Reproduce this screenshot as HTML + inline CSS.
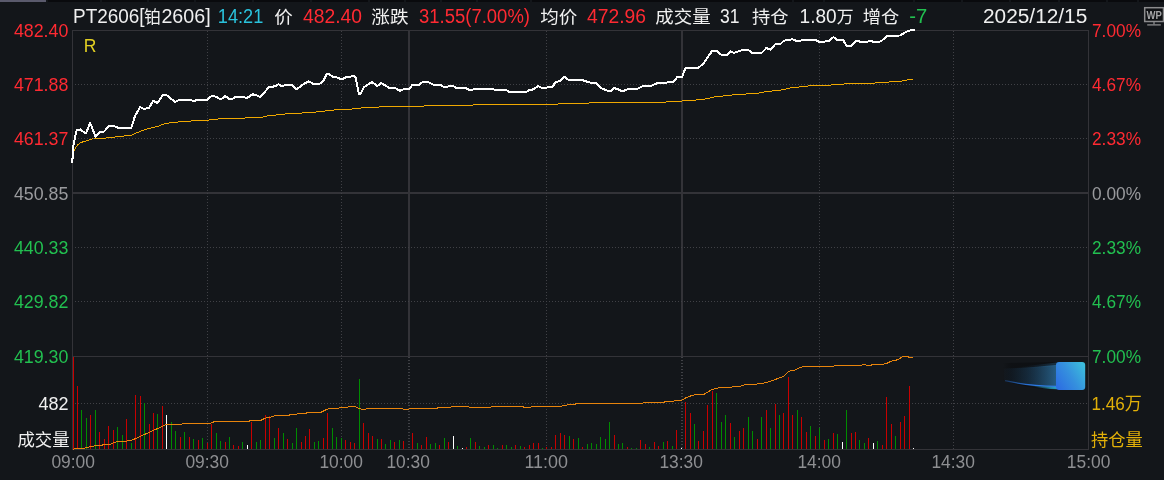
<!DOCTYPE html>
<html lang="zh-CN"><head><meta charset="utf-8"><title>PT2606</title>
<style>html,body{margin:0;padding:0;background:#13161a;overflow:hidden}svg{display:block}</style>
</head><body>
<svg width="1164" height="480" viewBox="0 0 1164 480">
<rect width="1164" height="480" fill="#13161a"/>
<g shape-rendering="crispEdges">
<rect x="0" y="0" width="1164" height="2" fill="#090a0d"/>
<rect x="0" y="0" width="46" height="2" fill="#5a5a6c"/>
<rect x="46" y="0" width="2" height="2" fill="#13161a"/>
<rect x="100" y="0" width="2" height="2" fill="#13161a"/>
<rect x="147" y="0" width="2" height="2" fill="#13161a"/>
<rect x="194" y="0" width="2" height="2" fill="#13161a"/>
<rect x="252" y="0" width="2" height="2" fill="#13161a"/>
<rect x="310" y="0" width="2" height="2" fill="#13161a"/>
<rect x="368" y="0" width="2" height="2" fill="#13161a"/>
<rect x="404" y="0" width="2" height="2" fill="#13161a"/>
<rect x="440" y="0" width="2" height="2" fill="#13161a"/>
<rect x="476" y="0" width="2" height="2" fill="#13161a"/>
<rect x="530" y="0" width="2" height="2" fill="#13161a"/>
<rect x="792" y="0" width="2" height="2" fill="#13161a"/>
<rect x="823" y="0" width="2" height="2" fill="#13161a"/>
<rect x="913" y="0" width="2" height="2" fill="#13161a"/>
<rect x="961" y="0" width="2" height="2" fill="#13161a"/>
<rect x="1009" y="0" width="2" height="2" fill="#13161a"/>
<rect x="1058" y="0" width="2" height="2" fill="#13161a"/>
<rect x="1106" y="0" width="2" height="2" fill="#13161a"/>
<rect x="1137" y="0" width="2" height="2" fill="#13161a"/>
<rect x="72" y="30" width="1017" height="1" fill="#333338"/>
<rect x="72" y="356" width="1017" height="1" fill="#333338"/>
<rect x="72" y="449" width="1017" height="1" fill="#333338"/>
<rect x="72" y="30" width="1" height="420" fill="#333338"/>
<rect x="1088" y="30" width="1" height="420" fill="#333338"/>
<rect x="72" y="192" width="1017" height="2" fill="#333338"/>
<rect x="408" y="30" width="2" height="326" fill="#333338"/>
<rect x="681" y="30" width="2" height="326" fill="#333338"/>
<line x1="75" y1="84.5" x2="1088" y2="84.5" stroke="#404146" stroke-width="1" stroke-dasharray="1 2"/>
<line x1="75" y1="138.5" x2="1088" y2="138.5" stroke="#404146" stroke-width="1" stroke-dasharray="1 2"/>
<line x1="75" y1="247.5" x2="1088" y2="247.5" stroke="#404146" stroke-width="1" stroke-dasharray="1 2"/>
<line x1="75" y1="301.5" x2="1088" y2="301.5" stroke="#404146" stroke-width="1" stroke-dasharray="1 2"/>
<line x1="75" y1="403.5" x2="1088" y2="403.5" stroke="#404146" stroke-width="1" stroke-dasharray="1 2"/>
<line x1="207.5" y1="31" x2="207.5" y2="449" stroke="#404146" stroke-width="1" stroke-dasharray="1 2"/>
<line x1="341.5" y1="31" x2="341.5" y2="449" stroke="#404146" stroke-width="1" stroke-dasharray="1 2"/>
<line x1="546.5" y1="31" x2="546.5" y2="449" stroke="#404146" stroke-width="1" stroke-dasharray="1 2"/>
<line x1="819.5" y1="31" x2="819.5" y2="449" stroke="#404146" stroke-width="1" stroke-dasharray="1 2"/>
<line x1="953.5" y1="31" x2="953.5" y2="449" stroke="#404146" stroke-width="1" stroke-dasharray="1 2"/>
<line x1="409" y1="357" x2="409" y2="449" stroke="#404146" stroke-width="2" stroke-dasharray="1 2"/>
<line x1="682" y1="357" x2="682" y2="449" stroke="#404146" stroke-width="2" stroke-dasharray="1 2"/>
<rect x="73" y="357" width="1" height="92" fill="#c80000"/>
<rect x="77" y="386" width="1" height="63" fill="#c80000"/>
<rect x="81" y="410" width="1" height="39" fill="#008c00"/>
<rect x="86" y="418" width="1" height="31" fill="#008c00"/>
<rect x="90" y="415" width="1" height="34" fill="#c80000"/>
<rect x="95" y="410" width="1" height="39" fill="#008c00"/>
<rect x="99" y="432" width="1" height="17" fill="#c80000"/>
<rect x="104" y="439" width="1" height="10" fill="#c80000"/>
<rect x="108" y="426" width="1" height="23" fill="#c80000"/>
<rect x="113" y="430" width="1" height="19" fill="#c80000"/>
<rect x="117" y="427" width="1" height="22" fill="#008c00"/>
<rect x="122" y="435" width="1" height="14" fill="#008c00"/>
<rect x="126" y="419" width="1" height="30" fill="#c80000"/>
<rect x="131" y="443" width="1" height="6" fill="#008c00"/>
<rect x="135" y="395" width="1" height="54" fill="#c80000"/>
<rect x="140" y="396" width="1" height="53" fill="#c80000"/>
<rect x="144" y="403" width="1" height="46" fill="#008c00"/>
<rect x="149" y="424" width="1" height="25" fill="#c80000"/>
<rect x="153" y="413" width="1" height="36" fill="#c80000"/>
<rect x="157" y="414" width="1" height="35" fill="#008c00"/>
<rect x="162" y="406" width="1" height="43" fill="#c80000"/>
<rect x="166" y="415" width="1" height="34" fill="#ffffff"/>
<rect x="171" y="422" width="1" height="27" fill="#008c00"/>
<rect x="175" y="431" width="1" height="18" fill="#008c00"/>
<rect x="180" y="437" width="1" height="12" fill="#c80000"/>
<rect x="184" y="432" width="1" height="17" fill="#008c00"/>
<rect x="189" y="437" width="1" height="12" fill="#c80000"/>
<rect x="193" y="439" width="1" height="10" fill="#008c00"/>
<rect x="198" y="440" width="1" height="9" fill="#c80000"/>
<rect x="202" y="438" width="1" height="11" fill="#008c00"/>
<rect x="207" y="443" width="1" height="6" fill="#c80000"/>
<rect x="211" y="424" width="1" height="25" fill="#c80000"/>
<rect x="216" y="433" width="1" height="16" fill="#008c00"/>
<rect x="220" y="441" width="1" height="8" fill="#008c00"/>
<rect x="225" y="442" width="1" height="7" fill="#c80000"/>
<rect x="229" y="437" width="1" height="12" fill="#008c00"/>
<rect x="233" y="445" width="1" height="4" fill="#c80000"/>
<rect x="238" y="446" width="1" height="3" fill="#c80000"/>
<rect x="242" y="442" width="1" height="7" fill="#008c00"/>
<rect x="247" y="445" width="1" height="4" fill="#ffffff"/>
<rect x="251" y="422" width="1" height="27" fill="#c80000"/>
<rect x="256" y="442" width="1" height="7" fill="#008c00"/>
<rect x="260" y="440" width="1" height="9" fill="#008c00"/>
<rect x="265" y="415" width="1" height="34" fill="#c80000"/>
<rect x="269" y="416" width="1" height="33" fill="#c80000"/>
<rect x="274" y="438" width="1" height="11" fill="#008c00"/>
<rect x="278" y="428" width="1" height="21" fill="#c80000"/>
<rect x="283" y="433" width="1" height="16" fill="#008c00"/>
<rect x="287" y="439" width="1" height="10" fill="#c80000"/>
<rect x="292" y="443" width="1" height="6" fill="#008c00"/>
<rect x="296" y="428" width="1" height="21" fill="#008c00"/>
<rect x="301" y="442" width="1" height="7" fill="#c80000"/>
<rect x="305" y="436" width="1" height="13" fill="#c80000"/>
<rect x="309" y="429" width="1" height="20" fill="#c80000"/>
<rect x="314" y="442" width="1" height="7" fill="#008c00"/>
<rect x="318" y="441" width="1" height="8" fill="#008c00"/>
<rect x="323" y="438" width="1" height="11" fill="#c80000"/>
<rect x="327" y="413" width="1" height="36" fill="#c80000"/>
<rect x="332" y="428" width="1" height="21" fill="#008c00"/>
<rect x="336" y="437" width="1" height="12" fill="#008c00"/>
<rect x="341" y="438" width="1" height="11" fill="#008c00"/>
<rect x="345" y="440" width="1" height="9" fill="#c80000"/>
<rect x="350" y="442" width="1" height="7" fill="#c80000"/>
<rect x="354" y="443" width="1" height="6" fill="#c80000"/>
<rect x="359" y="379" width="1" height="70" fill="#008c00"/>
<rect x="363" y="423" width="1" height="26" fill="#c80000"/>
<rect x="368" y="433" width="1" height="16" fill="#c80000"/>
<rect x="372" y="436" width="1" height="13" fill="#c80000"/>
<rect x="377" y="439" width="1" height="10" fill="#008c00"/>
<rect x="381" y="439" width="1" height="10" fill="#c80000"/>
<rect x="385" y="444" width="1" height="5" fill="#008c00"/>
<rect x="390" y="440" width="1" height="9" fill="#008c00"/>
<rect x="394" y="442" width="1" height="7" fill="#c80000"/>
<rect x="399" y="440" width="1" height="9" fill="#008c00"/>
<rect x="403" y="441" width="1" height="8" fill="#c80000"/>
<rect x="412" y="433" width="1" height="16" fill="#c80000"/>
<rect x="417" y="443" width="1" height="6" fill="#008c00"/>
<rect x="421" y="445" width="1" height="4" fill="#c80000"/>
<rect x="426" y="437" width="1" height="12" fill="#c80000"/>
<rect x="430" y="444" width="1" height="5" fill="#008c00"/>
<rect x="435" y="443" width="1" height="6" fill="#008c00"/>
<rect x="439" y="445" width="1" height="4" fill="#c80000"/>
<rect x="444" y="438" width="1" height="11" fill="#008c00"/>
<rect x="448" y="442" width="1" height="7" fill="#c80000"/>
<rect x="453" y="436" width="1" height="13" fill="#ffffff"/>
<rect x="457" y="446" width="1" height="3" fill="#008c00"/>
<rect x="462" y="448" width="1" height="1" fill="#ffffff"/>
<rect x="466" y="447" width="1" height="2" fill="#c80000"/>
<rect x="470" y="438" width="1" height="11" fill="#008c00"/>
<rect x="475" y="442" width="1" height="7" fill="#c80000"/>
<rect x="479" y="446" width="1" height="3" fill="#008c00"/>
<rect x="484" y="447" width="1" height="2" fill="#008c00"/>
<rect x="488" y="445" width="1" height="4" fill="#c80000"/>
<rect x="493" y="445" width="1" height="4" fill="#008c00"/>
<rect x="497" y="448" width="1" height="1" fill="#008c00"/>
<rect x="502" y="445" width="1" height="4" fill="#c80000"/>
<rect x="506" y="445" width="1" height="4" fill="#008c00"/>
<rect x="511" y="447" width="1" height="2" fill="#008c00"/>
<rect x="515" y="445" width="1" height="4" fill="#c80000"/>
<rect x="520" y="446" width="1" height="3" fill="#008c00"/>
<rect x="524" y="447" width="1" height="2" fill="#c80000"/>
<rect x="529" y="445" width="1" height="4" fill="#c80000"/>
<rect x="533" y="443" width="1" height="6" fill="#c80000"/>
<rect x="538" y="443" width="1" height="6" fill="#c80000"/>
<rect x="542" y="448" width="1" height="1" fill="#008c00"/>
<rect x="546" y="447" width="1" height="2" fill="#c80000"/>
<rect x="551" y="447" width="1" height="2" fill="#c80000"/>
<rect x="555" y="435" width="1" height="14" fill="#c80000"/>
<rect x="560" y="433" width="1" height="16" fill="#c80000"/>
<rect x="564" y="435" width="1" height="14" fill="#c80000"/>
<rect x="569" y="436" width="1" height="13" fill="#008c00"/>
<rect x="573" y="439" width="1" height="10" fill="#c80000"/>
<rect x="578" y="438" width="1" height="11" fill="#008c00"/>
<rect x="582" y="447" width="1" height="2" fill="#c80000"/>
<rect x="587" y="444" width="1" height="5" fill="#008c00"/>
<rect x="591" y="443" width="1" height="6" fill="#008c00"/>
<rect x="596" y="444" width="1" height="5" fill="#008c00"/>
<rect x="600" y="437" width="1" height="12" fill="#008c00"/>
<rect x="605" y="439" width="1" height="10" fill="#008c00"/>
<rect x="609" y="422" width="1" height="27" fill="#008c00"/>
<rect x="614" y="435" width="1" height="14" fill="#c80000"/>
<rect x="618" y="444" width="1" height="5" fill="#008c00"/>
<rect x="622" y="443" width="1" height="6" fill="#008c00"/>
<rect x="627" y="447" width="1" height="2" fill="#c80000"/>
<rect x="631" y="448" width="1" height="1" fill="#008c00"/>
<rect x="636" y="448" width="1" height="1" fill="#008c00"/>
<rect x="640" y="440" width="1" height="9" fill="#c80000"/>
<rect x="645" y="444" width="1" height="5" fill="#c80000"/>
<rect x="649" y="447" width="1" height="2" fill="#008c00"/>
<rect x="654" y="442" width="1" height="7" fill="#c80000"/>
<rect x="658" y="446" width="1" height="3" fill="#c80000"/>
<rect x="663" y="442" width="1" height="7" fill="#008c00"/>
<rect x="667" y="441" width="1" height="8" fill="#c80000"/>
<rect x="672" y="446" width="1" height="3" fill="#008c00"/>
<rect x="676" y="430" width="1" height="19" fill="#c80000"/>
<rect x="681" y="448" width="1" height="1" fill="#ffffff"/>
<rect x="685" y="402" width="1" height="47" fill="#c80000"/>
<rect x="690" y="413" width="1" height="36" fill="#c80000"/>
<rect x="694" y="424" width="1" height="25" fill="#008c00"/>
<rect x="698" y="441" width="1" height="8" fill="#c80000"/>
<rect x="703" y="431" width="1" height="18" fill="#c80000"/>
<rect x="707" y="405" width="1" height="44" fill="#c80000"/>
<rect x="712" y="391" width="1" height="58" fill="#c80000"/>
<rect x="716" y="393" width="1" height="56" fill="#008c00"/>
<rect x="721" y="422" width="1" height="27" fill="#008c00"/>
<rect x="725" y="415" width="1" height="34" fill="#008c00"/>
<rect x="730" y="423" width="1" height="26" fill="#c80000"/>
<rect x="734" y="437" width="1" height="12" fill="#008c00"/>
<rect x="739" y="431" width="1" height="18" fill="#c80000"/>
<rect x="743" y="428" width="1" height="21" fill="#c80000"/>
<rect x="748" y="417" width="1" height="32" fill="#008c00"/>
<rect x="752" y="431" width="1" height="18" fill="#008c00"/>
<rect x="757" y="439" width="1" height="10" fill="#c80000"/>
<rect x="761" y="417" width="1" height="32" fill="#008c00"/>
<rect x="766" y="410" width="1" height="39" fill="#c80000"/>
<rect x="770" y="428" width="1" height="21" fill="#008c00"/>
<rect x="775" y="404" width="1" height="45" fill="#c80000"/>
<rect x="779" y="415" width="1" height="34" fill="#008c00"/>
<rect x="783" y="413" width="1" height="36" fill="#c80000"/>
<rect x="788" y="377" width="1" height="72" fill="#c80000"/>
<rect x="792" y="415" width="1" height="34" fill="#c80000"/>
<rect x="797" y="410" width="1" height="39" fill="#008c00"/>
<rect x="801" y="417" width="1" height="32" fill="#c80000"/>
<rect x="806" y="432" width="1" height="17" fill="#c80000"/>
<rect x="810" y="426" width="1" height="23" fill="#008c00"/>
<rect x="815" y="436" width="1" height="13" fill="#c80000"/>
<rect x="819" y="428" width="1" height="21" fill="#008c00"/>
<rect x="824" y="440" width="1" height="9" fill="#c80000"/>
<rect x="828" y="439" width="1" height="10" fill="#008c00"/>
<rect x="833" y="433" width="1" height="16" fill="#c80000"/>
<rect x="837" y="434" width="1" height="15" fill="#008c00"/>
<rect x="842" y="442" width="1" height="7" fill="#ffffff"/>
<rect x="846" y="410" width="1" height="39" fill="#008c00"/>
<rect x="851" y="433" width="1" height="16" fill="#c80000"/>
<rect x="855" y="432" width="1" height="17" fill="#c80000"/>
<rect x="859" y="440" width="1" height="9" fill="#008c00"/>
<rect x="864" y="443" width="1" height="6" fill="#008c00"/>
<rect x="868" y="438" width="1" height="11" fill="#c80000"/>
<rect x="873" y="443" width="1" height="6" fill="#ffffff"/>
<rect x="877" y="441" width="1" height="8" fill="#008c00"/>
<rect x="882" y="445" width="1" height="4" fill="#c80000"/>
<rect x="886" y="397" width="1" height="52" fill="#c80000"/>
<rect x="891" y="424" width="1" height="25" fill="#c80000"/>
<rect x="895" y="436" width="1" height="13" fill="#008c00"/>
<rect x="900" y="422" width="1" height="27" fill="#c80000"/>
<rect x="904" y="416" width="1" height="33" fill="#c80000"/>
<rect x="909" y="386" width="1" height="63" fill="#c80000"/>
<rect x="913" y="448" width="1" height="1" fill="#ffffff"/>
</g>
<polyline points="73.0,449.5 75.0,448.5 84.0,448.4 88.0,447.2 93.0,446.2 97.0,445.4 102.0,445.2 104.0,444.4 110.0,444.3 117.0,441.6 125.0,441.4 131.9,440.2 164.8,425.2 166.5,424.5 181.5,424.3 182.6,423.5 208.0,423.5 212.3,422.8 214.4,421.4 248.8,421.4 250.9,420.1 261.3,420.1 266.5,417.6 270.7,417.2 276.9,415.1 289.4,415.1 291.5,414.1 304.0,413.9 308.2,412.4 320.7,412.4 326.9,409.3 331.1,408.3 338.4,408.3 340.5,407.2 347.3,407.2 349.4,406.2 354.6,406.2 359.8,408.9 365.0,409.3 367.1,408.3 401.5,408.3 403.5,409.3 408.8,409.3 410.8,408.3 436.9,408.3 439.0,407.2 450.4,407.2 452.5,406.4 468.1,406.4 470.2,407.4 490.6,407.4 492.3,406.4 522.9,406.4 523.9,407.4 530.2,407.4 531.8,406.4 561.4,406.4 563.5,405.5 566.6,405.3 567.7,404.5 575.0,404.3 577.0,403.2 642.8,403.2 644.3,402.2 664.0,402.2 666.2,401.4 673.5,401.4 675.5,400.3 681.8,400.3 686.0,397.8 692.2,395.3 697.4,394.5 703.7,394.5 712.0,389.5 719.3,387.6 731.8,387.2 732.8,386.4 740.0,386.4 746.4,384.3 754.2,384.3 763.6,383.2 770.9,381.2 777.2,378.7 783.4,376.4 788.6,371.2 794.9,370.1 801.1,367.2 805.3,366.4 833.4,366.4 835.5,365.5 861.5,365.3 863.6,364.5 866.8,365.3 871.0,365.3 872.0,364.5 882.9,364.4 887.0,363.3 891.2,361.2 897.5,359.8 903.8,356.0 906.9,356.0 909.0,357.3 913.0,357.3" fill="none" stroke="#e8840c" stroke-width="1" stroke-linejoin="round" shape-rendering="crispEdges"/>
<polyline points="74.2,151.4 75.2,148.2 77.5,145.0 80.9,142.5 86.6,140.8 90.5,139.6 93.5,138.6" fill="none" stroke="#f0a800" stroke-width="1" stroke-linejoin="round" shape-rendering="crispEdges"/>
<path d="M94,138.5H106 M106,137.5H115 M115,136.5H124 M124,135.5H132 M132,134.5H134 M134,133.5H136 M136,132.5H139 M139,131.5H141 M141,130.5H144 M144,129.5H147 M147,128.5H151 M151,127.5H155 M155,126.5H159 M159,125.5H161 M161,124.5H164 M164,123.5H169 M169,122.5H178 M178,121.5H191 M191,120.5H209 M209,119.5H218 M218,118.5H245 M245,117.5H263 M263,116.5H267 M267,115.5H276 M276,114.5H285 M285,113.5H302 M302,112.5H316 M316,111.5H325 M325,110.5H334 M334,109.5H352 M352,108.5H361 M361,107.5H379 M379,106.5H424 M424,105.5H473 M473,104.5H558 M558,103.5H589 M589,102.5H666 M666,101.5H682 M682,100.5H696 M696,99.5H705 M705,98.5H710 M710,97.5H714 M714,96.5H723 M723,95.5H732 M732,94.5H746 M746,93.5H759 M759,92.5H764 M764,91.5H772 M772,90.5H781 M781,89.5H786 M786,88.5H790 M790,87.5H799 M799,86.5H808 M808,85.5H831 M831,84.5H844 M844,83.5H875 M875,82.5H889 M889,81.5H902 M902,80.5H907 M907,79.5H913" fill="none" stroke="#f0a800" stroke-width="1" shape-rendering="crispEdges"/>
<polyline points="71.8,162.2 72.6,158.0 73.3,146.0 76.6,130.2 80.2,129.4 85.8,133.5 90.2,122.9 95.6,137.0 99.2,132.4 103.9,131.6 109.1,126.2 113.8,126.1 118.2,127.7 131.3,127.7 135.0,116.0 140.1,107.2 144.5,109.0 148.9,107.8 153.2,101.0 157.6,102.9 162.7,95.1 166.4,95.1 175.2,102.0 179.5,99.8 189.8,99.8 193.4,101.0 198.5,99.8 207.3,99.8 211.4,96.1 216.0,96.6 219.7,98.8 221.9,98.5 225.1,96.1 229.2,98.8 232.8,98.5 236.5,96.6 240.0,97.0 247.3,97.8 252.4,94.4 255.3,94.7 260.4,97.1 269.2,86.8 275.1,86.4 278.4,84.2 281.6,86.0 287.5,84.9 291.8,84.9 296.7,89.3 304.3,83.5 308.9,81.3 313.0,83.9 319.6,83.9 323.2,81.3 326.9,73.7 329.1,74.0 332.7,76.9 336.4,77.2 340.0,78.8 343.0,78.7 346.6,76.9 353.9,76.2 355.4,76.9 359.0,94.1 360.5,93.7 364.1,87.1 372.2,82.0 377.3,86.0 381.4,83.0 389.0,87.9 394.8,87.9 399.9,90.8 404.3,88.9 409.4,88.9 412.3,84.9 418.9,84.9 422.5,82.0 426.2,82.0 429.8,82.7 433.5,84.9 440.0,84.6 443.7,86.8 447.4,86.8 450.3,85.7 453.2,86.0 456.1,87.9 465.6,87.9 469.3,90.0 472.2,90.0 475.1,88.6 492.6,88.9 494.8,90.0 505.8,90.0 509.4,91.9 526.2,91.8 529.1,90.3 533.5,89.3 538.2,86.0 541.6,87.9 545.9,87.9 548.9,86.8 552.5,86.8 555.4,82.5 560.5,80.6 564.2,76.6 567.8,79.5 575.0,79.8 581.0,79.7 584.6,80.9 589.0,82.4 596.3,83.1 601.4,88.2 608.7,91.1 610.9,90.8 613.8,88.2 617.5,88.9 621.8,91.1 624.0,90.8 628.4,88.9 637.9,88.5 643.0,86.0 651.8,85.6 658.4,82.6 666.4,82.8 669.3,81.9 673.7,81.6 677.3,77.0 682.2,76.8 685.4,68.0 689.8,67.5 698.5,67.7 703.6,63.4 712.4,50.5 716.0,50.5 721.9,55.3 726.3,55.3 730.7,51.4 733.6,52.9 740.0,51.0 742.9,49.8 748.0,49.8 751.7,52.7 761.9,52.7 766.3,48.1 770.7,49.8 775.1,44.4 780.2,44.4 783.8,40.6 788.2,40.3 792.6,39.2 795.5,40.6 800.6,40.6 802.8,39.6 815.2,39.6 819.6,42.2 824.0,42.2 826.2,40.8 829.1,40.8 833.5,37.0 836.4,39.6 843.0,39.9 846.6,45.9 851.0,45.9 856.1,40.6 860.5,41.8 867.1,41.8 870.0,40.8 874.4,42.1 880.9,41.4 887.5,35.7 899.9,35.5 906.0,32.0 910.0,30.5 914.0,30.0" fill="none" stroke="#ffffff" stroke-width="2" stroke-linejoin="round" stroke-linecap="round" shape-rendering="crispEdges"/>
<defs>
<linearGradient id="bq" x1="0" y1="0.8" x2="1" y2="0.2"><stop offset="0" stop-color="#2d6fe2"/><stop offset="0.5" stop-color="#3590de"/><stop offset="1" stop-color="#3cbcdc"/></linearGradient>
<linearGradient id="dk" x1="0" y1="0" x2="1" y2="0"><stop offset="0" stop-color="#0b0d10" stop-opacity="0"/><stop offset="0.15" stop-color="#0b0d10" stop-opacity="0.6"/><stop offset="1" stop-color="#0b0d10" stop-opacity="0.7"/></linearGradient>
<linearGradient id="tail" x1="0" y1="0" x2="1" y2="0"><stop offset="0" stop-color="#1c4468" stop-opacity="0.05"/><stop offset="0.5" stop-color="#235a86" stop-opacity="0.38"/><stop offset="1" stop-color="#2f78aa" stop-opacity="0.75"/></linearGradient>
<linearGradient id="tail2" x1="0" y1="0" x2="1" y2="0"><stop offset="0" stop-color="#2a78e6" stop-opacity="0.3"/><stop offset="0.5" stop-color="#2a78e6" stop-opacity="1"/><stop offset="1" stop-color="#2f7fe8" stop-opacity="1"/></linearGradient>
<linearGradient id="tail3" x1="0" y1="0" x2="1" y2="0"><stop offset="0" stop-color="#2aa6c8" stop-opacity="0"/><stop offset="1" stop-color="#2aa6c8" stop-opacity="0.95"/></linearGradient>
</defs>
<path d="M1003,363 L1057,362 L1057,389.5 C1040,389.5 1020,386 1003,380.5 Z" fill="url(#dk)"/>
<path d="M1004,368.5 C1022,368 1040,366.5 1057,365 L1057,388 C1038,387 1020,384 1004,380.5 Z" fill="url(#tail)"/>
<path d="M1022,366.5 L1057,362.5 L1057,366 L1022,368.3 Z" fill="url(#tail)" opacity="0.45"/>
<path d="M1030,386 C1040,388 1048,389 1057,389.2 L1057,386.5 Z" fill="url(#tail3)"/>
<path d="M1005,380.7 C1022,384.5 1038,386 1057,386.3" fill="none" stroke="url(#tail2)" stroke-width="1.3"/>
<rect x="1056" y="362" width="29.2" height="28" rx="3" fill="url(#bq)"/>
<g fill="none" stroke="#8c8c8e" stroke-width="1.5"><rect x="1144.7" y="7.7" width="18.8" height="13.8" fill="#101215"/><path d="M1154,22 V24.6" stroke-width="1.3"/><path d="M1147.2,24.9 H1160.8" stroke-width="1.3"/></g>
<text x="1154.1" y="18.8" font-family="'Liberation Sans',sans-serif" font-weight="bold" font-size="10.2" fill="#a6a6a8" text-anchor="middle" textLength="15.3" lengthAdjust="spacingAndGlyphs">WP</text>
<text x="68.4" y="37.2" font-family="'Liberation Sans','Noto Sans CJK SC',sans-serif" font-size="18.5" fill="#ff2a32" text-anchor="end" textLength="54.5" lengthAdjust="spacingAndGlyphs">482.40</text>
<text x="68.4" y="91.2" font-family="'Liberation Sans','Noto Sans CJK SC',sans-serif" font-size="18.5" fill="#ff2a32" text-anchor="end" textLength="54.5" lengthAdjust="spacingAndGlyphs">471.88</text>
<text x="68.4" y="145.2" font-family="'Liberation Sans','Noto Sans CJK SC',sans-serif" font-size="18.5" fill="#ff2a32" text-anchor="end" textLength="54.5" lengthAdjust="spacingAndGlyphs">461.37</text>
<text x="68.4" y="200.2" font-family="'Liberation Sans','Noto Sans CJK SC',sans-serif" font-size="18.5" fill="#9a9b9e" text-anchor="end" textLength="54.5" lengthAdjust="spacingAndGlyphs">450.85</text>
<text x="68.4" y="254.2" font-family="'Liberation Sans','Noto Sans CJK SC',sans-serif" font-size="18.5" fill="#22c050" text-anchor="end" textLength="54.5" lengthAdjust="spacingAndGlyphs">440.33</text>
<text x="68.4" y="308.2" font-family="'Liberation Sans','Noto Sans CJK SC',sans-serif" font-size="18.5" fill="#22c050" text-anchor="end" textLength="54.5" lengthAdjust="spacingAndGlyphs">429.82</text>
<text x="68.4" y="363.2" font-family="'Liberation Sans','Noto Sans CJK SC',sans-serif" font-size="18.5" fill="#22c050" text-anchor="end" textLength="54.5" lengthAdjust="spacingAndGlyphs">419.30</text>
<text x="68.5" y="409.6" font-family="'Liberation Sans','Noto Sans CJK SC',sans-serif" font-size="18" fill="#f0f0f0" text-anchor="end" >482</text>
<text x="69.6" y="445.8" font-family="'Liberation Sans','Noto Sans CJK SC',sans-serif" font-size="17.4" fill="#f0f0f0" text-anchor="end" >成交量</text>
<text x="1092" y="37.2" font-family="'Liberation Sans','Noto Sans CJK SC',sans-serif" font-size="18.5" fill="#ff2a32" text-anchor="start" textLength="49" lengthAdjust="spacingAndGlyphs">7.00%</text>
<text x="1092" y="91.2" font-family="'Liberation Sans','Noto Sans CJK SC',sans-serif" font-size="18.5" fill="#ff2a32" text-anchor="start" textLength="49" lengthAdjust="spacingAndGlyphs">4.67%</text>
<text x="1092" y="145.2" font-family="'Liberation Sans','Noto Sans CJK SC',sans-serif" font-size="18.5" fill="#ff2a32" text-anchor="start" textLength="49" lengthAdjust="spacingAndGlyphs">2.33%</text>
<text x="1092" y="200.2" font-family="'Liberation Sans','Noto Sans CJK SC',sans-serif" font-size="18.5" fill="#9a9b9e" text-anchor="start" textLength="49" lengthAdjust="spacingAndGlyphs">0.00%</text>
<text x="1092" y="254.2" font-family="'Liberation Sans','Noto Sans CJK SC',sans-serif" font-size="18.5" fill="#22c050" text-anchor="start" textLength="49" lengthAdjust="spacingAndGlyphs">2.33%</text>
<text x="1092" y="308.2" font-family="'Liberation Sans','Noto Sans CJK SC',sans-serif" font-size="18.5" fill="#22c050" text-anchor="start" textLength="49" lengthAdjust="spacingAndGlyphs">4.67%</text>
<text x="1092" y="363.2" font-family="'Liberation Sans','Noto Sans CJK SC',sans-serif" font-size="18.5" fill="#22c050" text-anchor="start" textLength="49" lengthAdjust="spacingAndGlyphs">7.00%</text>
<text x="1091.5" y="409.6" font-family="'Liberation Sans','Noto Sans CJK SC',sans-serif" font-size="17.8" fill="#e2b008" text-anchor="start" textLength="50.4" lengthAdjust="spacingAndGlyphs">1.46万</text>
<text x="1091.0" y="445.9" font-family="'Liberation Sans','Noto Sans CJK SC',sans-serif" font-size="17.3" fill="#e2b008" text-anchor="start" >持仓量</text>
<text x="73.2" y="467.9" font-family="'Liberation Sans','Noto Sans CJK SC',sans-serif" font-size="18" fill="#8e8f92" text-anchor="middle" textLength="43.5" lengthAdjust="spacingAndGlyphs">09:00</text>
<text x="207.2" y="467.9" font-family="'Liberation Sans','Noto Sans CJK SC',sans-serif" font-size="18" fill="#8e8f92" text-anchor="middle" textLength="43.5" lengthAdjust="spacingAndGlyphs">09:30</text>
<text x="341.2" y="467.9" font-family="'Liberation Sans','Noto Sans CJK SC',sans-serif" font-size="18" fill="#8e8f92" text-anchor="middle" textLength="43.5" lengthAdjust="spacingAndGlyphs">10:00</text>
<text x="408.2" y="467.9" font-family="'Liberation Sans','Noto Sans CJK SC',sans-serif" font-size="18" fill="#8e8f92" text-anchor="middle" textLength="43.5" lengthAdjust="spacingAndGlyphs">10:30</text>
<text x="546.2" y="467.9" font-family="'Liberation Sans','Noto Sans CJK SC',sans-serif" font-size="18" fill="#8e8f92" text-anchor="middle" textLength="43.5" lengthAdjust="spacingAndGlyphs">11:00</text>
<text x="681.2" y="467.9" font-family="'Liberation Sans','Noto Sans CJK SC',sans-serif" font-size="18" fill="#8e8f92" text-anchor="middle" textLength="43.5" lengthAdjust="spacingAndGlyphs">13:30</text>
<text x="819.2" y="467.9" font-family="'Liberation Sans','Noto Sans CJK SC',sans-serif" font-size="18" fill="#8e8f92" text-anchor="middle" textLength="43.5" lengthAdjust="spacingAndGlyphs">14:00</text>
<text x="953.2" y="467.9" font-family="'Liberation Sans','Noto Sans CJK SC',sans-serif" font-size="18" fill="#8e8f92" text-anchor="middle" textLength="43.5" lengthAdjust="spacingAndGlyphs">14:30</text>
<text x="1088.6000000000001" y="467.9" font-family="'Liberation Sans','Noto Sans CJK SC',sans-serif" font-size="18" fill="#8e8f92" text-anchor="middle" textLength="43.5" lengthAdjust="spacingAndGlyphs">15:00</text>
<text x="83.8" y="52" font-family="'Liberation Sans','Noto Sans CJK SC',sans-serif" font-size="17.5" fill="#e2cf22" text-anchor="start" >R</text>
<text x="73.0" y="22.7" font-family="'Liberation Sans','Noto Sans CJK SC',sans-serif" font-size="19.6" fill="#f0f0f0" textLength="71.6" lengthAdjust="spacingAndGlyphs">PT2606[</text>
<text x="144.1" y="22.8" font-family="'Liberation Sans','Noto Sans CJK SC',sans-serif" font-size="17.4" fill="#f0f0f0" textLength="16.8" lengthAdjust="spacingAndGlyphs">铂</text>
<text x="161.4" y="22.7" font-family="'Liberation Sans','Noto Sans CJK SC',sans-serif" font-size="19.6" fill="#f0f0f0" textLength="49.3" lengthAdjust="spacingAndGlyphs">2606]</text>
<text x="217.8" y="22.7" font-family="'Liberation Sans','Noto Sans CJK SC',sans-serif" font-size="19.6" fill="#2ac2dc" textLength="45.5" lengthAdjust="spacingAndGlyphs">14:21</text>
<text x="274.3" y="22.8" font-family="'Liberation Sans','Noto Sans CJK SC',sans-serif" font-size="17.4" fill="#f0f0f0" textLength="18.5" lengthAdjust="spacingAndGlyphs">价</text>
<text x="303" y="22.7" font-family="'Liberation Sans','Noto Sans CJK SC',sans-serif" font-size="19.6" fill="#ff2a32" textLength="59" lengthAdjust="spacingAndGlyphs">482.40</text>
<text x="371.3" y="22.8" font-family="'Liberation Sans','Noto Sans CJK SC',sans-serif" font-size="17.4" fill="#f0f0f0" textLength="37.2" lengthAdjust="spacingAndGlyphs">涨跌</text>
<text x="419" y="22.7" font-family="'Liberation Sans','Noto Sans CJK SC',sans-serif" font-size="19.6" fill="#ff2a32" textLength="111" lengthAdjust="spacingAndGlyphs">31.55(7.00%)</text>
<text x="540.2" y="22.8" font-family="'Liberation Sans','Noto Sans CJK SC',sans-serif" font-size="17.4" fill="#f0f0f0" textLength="37" lengthAdjust="spacingAndGlyphs">均价</text>
<text x="587" y="22.7" font-family="'Liberation Sans','Noto Sans CJK SC',sans-serif" font-size="19.6" fill="#ff2a32" textLength="59" lengthAdjust="spacingAndGlyphs">472.96</text>
<text x="655.2" y="22.8" font-family="'Liberation Sans','Noto Sans CJK SC',sans-serif" font-size="17.4" fill="#f0f0f0" textLength="55.5" lengthAdjust="spacingAndGlyphs">成交量</text>
<text x="720" y="22.7" font-family="'Liberation Sans','Noto Sans CJK SC',sans-serif" font-size="19.6" fill="#f0f0f0" textLength="19.5" lengthAdjust="spacingAndGlyphs">31</text>
<text x="752" y="22.8" font-family="'Liberation Sans','Noto Sans CJK SC',sans-serif" font-size="17.4" fill="#f0f0f0" textLength="36.5" lengthAdjust="spacingAndGlyphs">持仓</text>
<text x="799.6" y="22.7" font-family="'Liberation Sans','Noto Sans CJK SC',sans-serif" font-size="19.6" fill="#f0f0f0" textLength="54" lengthAdjust="spacingAndGlyphs">1.80<tspan font-size="17.4" dy="0.1">万</tspan></text>
<text x="862.8" y="22.8" font-family="'Liberation Sans','Noto Sans CJK SC',sans-serif" font-size="17.4" fill="#f0f0f0" textLength="36.5" lengthAdjust="spacingAndGlyphs">增仓</text>
<text x="909.2" y="22.7" font-family="'Liberation Sans','Noto Sans CJK SC',sans-serif" font-size="19.6" fill="#22c050" textLength="18" lengthAdjust="spacingAndGlyphs">-7</text>
<text x="983" y="22.7" font-family="'Liberation Sans','Noto Sans CJK SC',sans-serif" font-size="19.6" fill="#f0f0f0" textLength="104.3" lengthAdjust="spacingAndGlyphs">2025/12/15</text>
</svg>
</body></html>
